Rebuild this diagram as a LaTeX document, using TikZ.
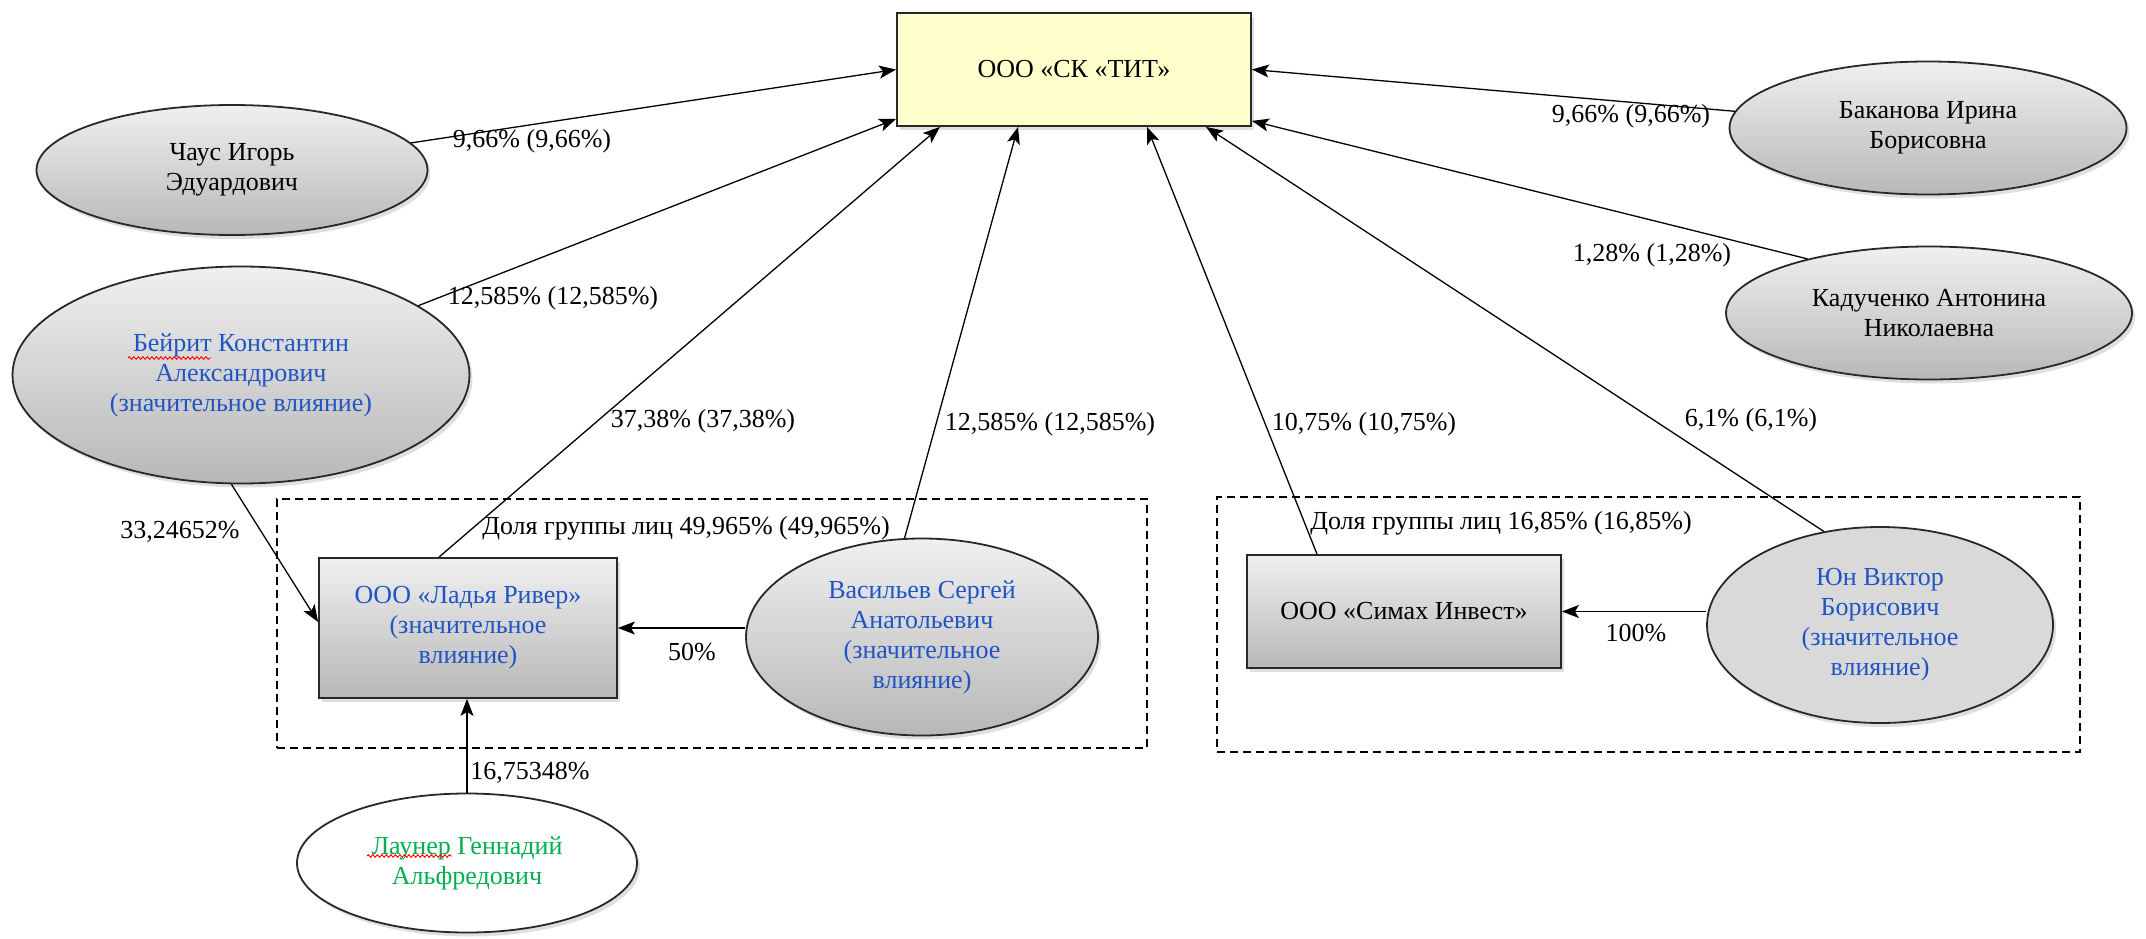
\documentclass[tikz,border=0pt]{standalone}
\usepackage{fontspec}
\setmainfont{Liberation Serif}
\usetikzlibrary{arrows.meta,shapes.geometric,shadows,calc,decorations.pathmorphing}
\definecolor{txtblue}{RGB}{32,84,196}
\definecolor{txtgreen}{RGB}{0,176,80}
\definecolor{boxyellow}{RGB}{255,255,204}
\definecolor{edgegray}{RGB}{40,40,40}
\begin{document}
\begin{tikzpicture}[x=1pt,y=-1pt,
  every node/.style={font=\fontsize{26}{30}\selectfont},
  shadowed/.style={drop shadow={opacity=0.25,shadow xshift=3pt,shadow yshift=-4pt}},
  shade3d/.style={top color=black!6, bottom color=black!28, draw=edgegray, line width=1.8pt, shadowed},
  person/.style={ellipse, shade3d, align=center, inner sep=0pt},
  firm/.style={rectangle, shade3d, align=center, inner sep=0pt},
  arr/.style={line width=1.3pt, draw=black, -{Stealth[length=17pt,width=13pt,inset=4pt]}},
  pct/.style={inner sep=0pt},
  grp/.style={draw=black, line width=1.4pt, dash pattern=on 8pt off 5pt, rectangle, inner sep=0pt},
  squiggle/.style={draw=red, line width=0.9pt, decorate, decoration={snake,amplitude=1.3pt,segment length=4.5pt}},
]
\useasboundingbox (0,0) rectangle (2146,939);

% group boxes
\node[grp, minimum width=870pt, minimum height=249pt] (g1) at (712,623.5) {};
\node[grp, minimum width=863pt, minimum height=255pt] (g2) at (1648.5,624.5) {};

% main company
\node[rectangle, draw=edgegray, line width=1.8pt, fill=boxyellow, shadowed,
      minimum width=354pt, minimum height=113pt] (main) at (1074,69.5) {ООО «СК «ТИТ»};

% persons and firms
\node[person, minimum width=391pt, minimum height=130pt] (chaus) at (232,170) {Чаус Игорь\\Эдуардович};
\node[person, minimum width=457pt, minimum height=217pt, text=txtblue] (beirit) at (241,375)
  {Бейрит Константин\\Александрович\\(значительное влияние)};
\node[person, minimum width=397pt, minimum height=133pt] (bak) at (1928,128) {Баканова Ирина\\Борисовна};
\node[person, minimum width=406pt, minimum height=133pt] (kad) at (1929,313) {Кадученко Антонина\\Николаевна};
\node[firm, minimum width=298pt, minimum height=140pt, text=txtblue] (ladya) at (468,628)
  {ООО «Ладья Ривер»\\(значительное\\влияние)};
\node[person, minimum width=352pt, minimum height=197pt, text=txtblue] (vas) at (922,637)
  {Васильев Сергей\\Анатольевич\\(значительное\\влияние)};
\node[firm, minimum width=314pt, minimum height=113pt] (simax) at (1404,611.5) {ООО «Симах Инвест»};
\node[ellipse, draw=edgegray, line width=1.8pt, fill=black!15, shadowed, align=center, inner sep=0pt,
      minimum width=346pt, minimum height=196pt, text=txtblue] (yun) at (1880,625)
  {Юн Виктор\\Борисович\\(значительное\\влияние)};
\node[ellipse, draw=edgegray, line width=1.8pt, fill=white, shadowed, align=center, inner sep=0pt,
      minimum width=340pt, minimum height=139pt, text=txtgreen] (launer) at (467,863)
  {Лаунер Геннадий\\Альфредович};

% spell-check squiggles
\draw[squiggle] (128,358) -- (211,358);
\draw[squiggle] (367,856) -- (452,856);

% connectors
\draw[arr] (chaus) -- (main.west);
\draw[arr] (beirit) -- ([yshift=8pt]main.south west);
\draw[arr] ([xshift=-29pt]ladya.north) -- ([xshift=-134pt]main.south);
\draw[arr] (vas.100) -- ([xshift=-56pt]main.south);
\draw[arr] ([xshift=-87pt]simax.north) -- ([xshift=73pt]main.south);
\draw[arr] (yun.121) -- ([xshift=132pt]main.south);
\draw[arr] (bak) -- (main.east);
\draw[arr] (kad.156) -- ([yshift=6pt]main.south east);
\draw[arr] (yun.west |- simax.east) -- (simax.east);
\draw[arr] (vas.west |- ladya.east) -- (ladya.east);
\draw[arr] (beirit.265) -- ([yshift=6pt]ladya.west);
\draw[arr] (launer.north) -- (launer.north |- ladya.south);

% labels
\node[pct] (l1) at (532,141) {9,66\% (9,66\%)};
\node[pct] (l2) at (553,298) {12,585\% (12,585\%)};
\node[pct] (l3) at (703,421) {37,38\% (37,38\%)};
\node[pct] (l4) at (1050,424) {12,585\% (12,585\%)};
\node[pct] (l5) at (1364,424) {10,75\% (10,75\%)};
\node[pct] (l6) at (1751,420) {6,1\% (6,1\%)};
\node[pct] (l7) at (1631,116) {9,66\% (9,66\%)};
\node[pct] (l8) at (1652,255) {1,28\% (1,28\%)};
\node[pct] (l9) at (180,532) {33,24652\%};
\node[pct] (l10) at (692,652) {50\%};
\node[pct] (l11) at (1636,633) {100\%};
\node[pct] (l12) at (530,773) {16,75348\%};
\node[pct] (l13) at (686,528) {Доля группы лиц 49,965\% (49,965\%)};
\node[pct] (l14) at (1501,523) {Доля группы лиц 16,85\% (16,85\%)};
\end{tikzpicture}
\end{document}
